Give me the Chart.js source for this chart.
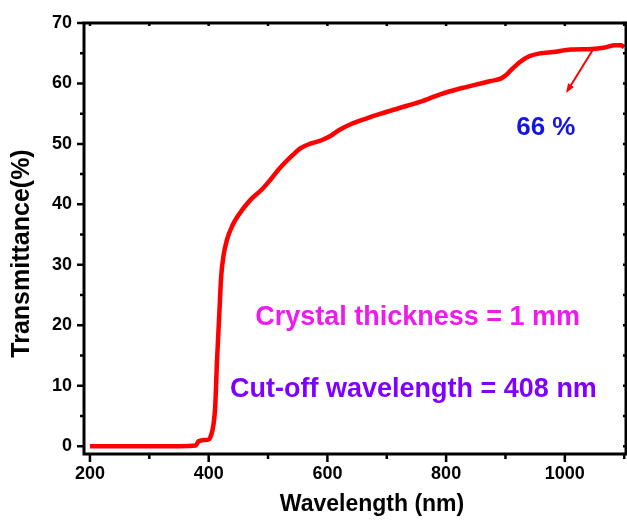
<!DOCTYPE html>
<html>
<head>
<meta charset="utf-8">
<title>Transmittance spectrum</title>
<script src="https://cdn.jsdelivr.net/npm/chart.js@4.4.1/dist/chart.umd.min.js"></script>
<style>
    html, body { margin: 0; padding: 0; background: #ffffff; }
    #wrap { width: 627px; height: 520px; position: relative; }
</style>
</head>
<body>
<div id="wrap"><canvas id="mainChart"></canvas></div>
<script>
// Spectrum data: wavelength (nm) and transmittance (%)
const wavelengths = [200, 250, 300, 350, 378, 383, 386, 392, 400, 404, 408, 411, 414, 418, 421, 425,
    431, 440, 450, 470, 490, 505, 520, 540, 555, 570, 590, 605, 620, 640, 665, 690, 720, 757,
    790, 825, 850, 875, 892, 900, 910, 925, 940, 960, 980, 1010, 1045, 1065, 1085, 1095, 1100];
const transmittance = [0, 0, 0, 0, 0.1, 0.8, 0.9, 1.0, 1.1, 1.8, 3.5, 6.5, 14, 22, 28, 31.5,
    34.2, 36.5, 38.2, 40.7, 42.5, 44.2, 46, 48, 49.3, 50, 50.6, 51.3, 52.3, 53.3, 54.2, 55, 55.9, 57,
    58.2, 59.2, 59.8, 60.4, 60.8, 61.3, 62.3, 63.6, 64.5, 65, 65.2, 65.6, 65.7, 65.9, 66.3, 66.3, 66];

// Axis ticks
const xTicks = [200, 300, 400, 500, 600, 700, 800, 900, 1000, 1100];
const xTickLabels = ['200', '', '400', '', '600', '', '800', '', '1000', ''];
const yTicks = [0, 5, 10, 15, 20, 25, 30, 35, 40, 45, 50, 55, 60, 65, 70];
const yTickLabels = ['0', '', '10', '', '20', '', '30', '', '40', '', '50', '', '60', '', '70'];

const xTitle = 'Wavelength (nm)';
const yTitle = 'Transmittance(%)';

// Arrow pointing from the plateau to the "66 %" label (wavelength, transmittance)
const arrowFrom = [1048, 65.7];
const arrowTo = [1002, 58.4];

// Text notes placed in data coordinates
const notes = [
    { text: '66 %', x: 968, y: 52.6, color: '#1414e6', size: 26 },
    { text: 'Crystal thickness = 1 mm', x: 752, y: 21.2, color: '#ee1aee', size: 27 },
    { text: 'Cut-off wavelength = 408 nm', x: 745, y: 9.4, color: '#7f00ff', size: 27 }
];

const FONT = '"Liberation Sans", Arial, Helvetica, sans-serif';

// Frame, tick marks, axis titles, arrow and notes
const framePlugin = {
    id: 'frame',
    afterDatasetsDraw(chart) {
        const { ctx, chartArea: a, scales: { x, y } } = chart;
        ctx.save();

        // tick marks, major ones longer
        ctx.strokeStyle = '#000';
        ctx.lineWidth = 2.5;
        xTicks.forEach((v, i) => {
            const px = x.getPixelForValue(v);
            const len = xTickLabels[i] ? 8 : 5;
            ctx.beginPath();
            ctx.moveTo(px, a.bottom);
            ctx.lineTo(px, a.bottom + len);
            ctx.moveTo(px, a.top);
            ctx.lineTo(px, a.top + 3);
            ctx.stroke();
        });
        yTicks.forEach((v, i) => {
            const py = y.getPixelForValue(v);
            const len = yTickLabels[i] ? 7 : 4;
            ctx.beginPath();
            ctx.moveTo(a.left, py);
            ctx.lineTo(a.left - len, py);
            ctx.moveTo(a.right, py);
            ctx.lineTo(a.right - 3, py);
            ctx.stroke();
        });

        // box around the plot
        ctx.lineWidth = 3;
        ctx.strokeRect(a.left, a.top, a.right - a.left, a.bottom - a.top);

        // axis titles
        ctx.fillStyle = '#000';
        ctx.textAlign = 'center';
        ctx.textBaseline = 'middle';
        ctx.font = 'bold 23px ' + FONT;
        ctx.fillText(xTitle, (a.left + a.right) / 2 + 17, 505);
        ctx.save();
        ctx.translate(22, (a.top + a.bottom) / 2 + 15);
        ctx.rotate(-Math.PI / 2);
        ctx.font = 'bold 25px ' + FONT;
        ctx.fillText(yTitle, 0, 0);
        ctx.restore();

        // arrow
        const x1 = x.getPixelForValue(arrowFrom[0]), y1 = y.getPixelForValue(arrowFrom[1]);
        const x2 = x.getPixelForValue(arrowTo[0]), y2 = y.getPixelForValue(arrowTo[1]);
        const ang = Math.atan2(y2 - y1, x2 - x1);
        ctx.strokeStyle = '#ff0000';
        ctx.fillStyle = '#ff0000';
        ctx.lineWidth = 2;
        ctx.beginPath();
        ctx.moveTo(x1, y1);
        ctx.lineTo(x2 - 6 * Math.cos(ang), y2 - 6 * Math.sin(ang));
        ctx.stroke();
        ctx.beginPath();
        ctx.moveTo(x2, y2);
        ctx.lineTo(x2 - 10 * Math.cos(ang - 0.35), y2 - 10 * Math.sin(ang - 0.35));
        ctx.lineTo(x2 - 10 * Math.cos(ang + 0.35), y2 - 10 * Math.sin(ang + 0.35));
        ctx.closePath();
        ctx.fill();

        // notes
        notes.forEach(n => {
            ctx.font = 'bold ' + n.size + 'px ' + FONT;
            ctx.fillStyle = n.color;
            ctx.fillText(n.text, x.getPixelForValue(n.x), y.getPixelForValue(n.y));
        });
        ctx.restore();
    }
};

const points = wavelengths.map((w, i) => ({ x: w, y: transmittance[i] }));

new Chart(document.getElementById('mainChart'), {
    type: 'line',
    data: {
        datasets: [{
            label: 'Transmittance',
            data: points,
            borderColor: '#ff0000',
            borderWidth: 4.5,
            pointRadius: 0,
            cubicInterpolationMode: 'monotone',
            fill: false
        }]
    },
    options: {
        responsive: true,
        maintainAspectRatio: false,
        animation: false,
        layout: { padding: { top: 23, right: 1, left: 0, bottom: 0 } },
        plugins: {
            legend: { display: false },
            tooltip: { enabled: false }
        },
        scales: {
            x: {
                type: 'linear',
                min: 190,
                max: 1103,
                afterBuildTicks: s => { s.ticks = xTicks.map(v => ({ value: v })); },
                afterFit: s => {
                    s.height = 66;
                    s.paddingLeft = 0;
                    s.paddingRight = 0;
                },
                grid: { display: false, drawTicks: false },
                border: { display: false },
                ticks: {
                    padding: 9,
                    autoSkip: false,
                    maxRotation: 0,
                    color: '#000',
                    font: { family: FONT, size: 18, weight: 'bold' },
                    callback: (v) => xTickLabels[xTicks.indexOf(v)] || ''
                }
            },
            y: {
                min: -1.3,
                max: 70,
                afterBuildTicks: s => { s.ticks = yTicks.map(v => ({ value: v })); },
                afterFit: s => { s.width = 84; },
                grid: { display: false, drawTicks: false },
                border: { display: false },
                ticks: {
                    padding: 12,
                    autoSkip: false,
                    color: '#000',
                    font: { family: FONT, size: 18, weight: 'bold' },
                    callback: (v) => yTickLabels[yTicks.indexOf(v)] || ''
                }
            }
        }
    },
    plugins: [framePlugin]
});
</script>
</body>
</html>
